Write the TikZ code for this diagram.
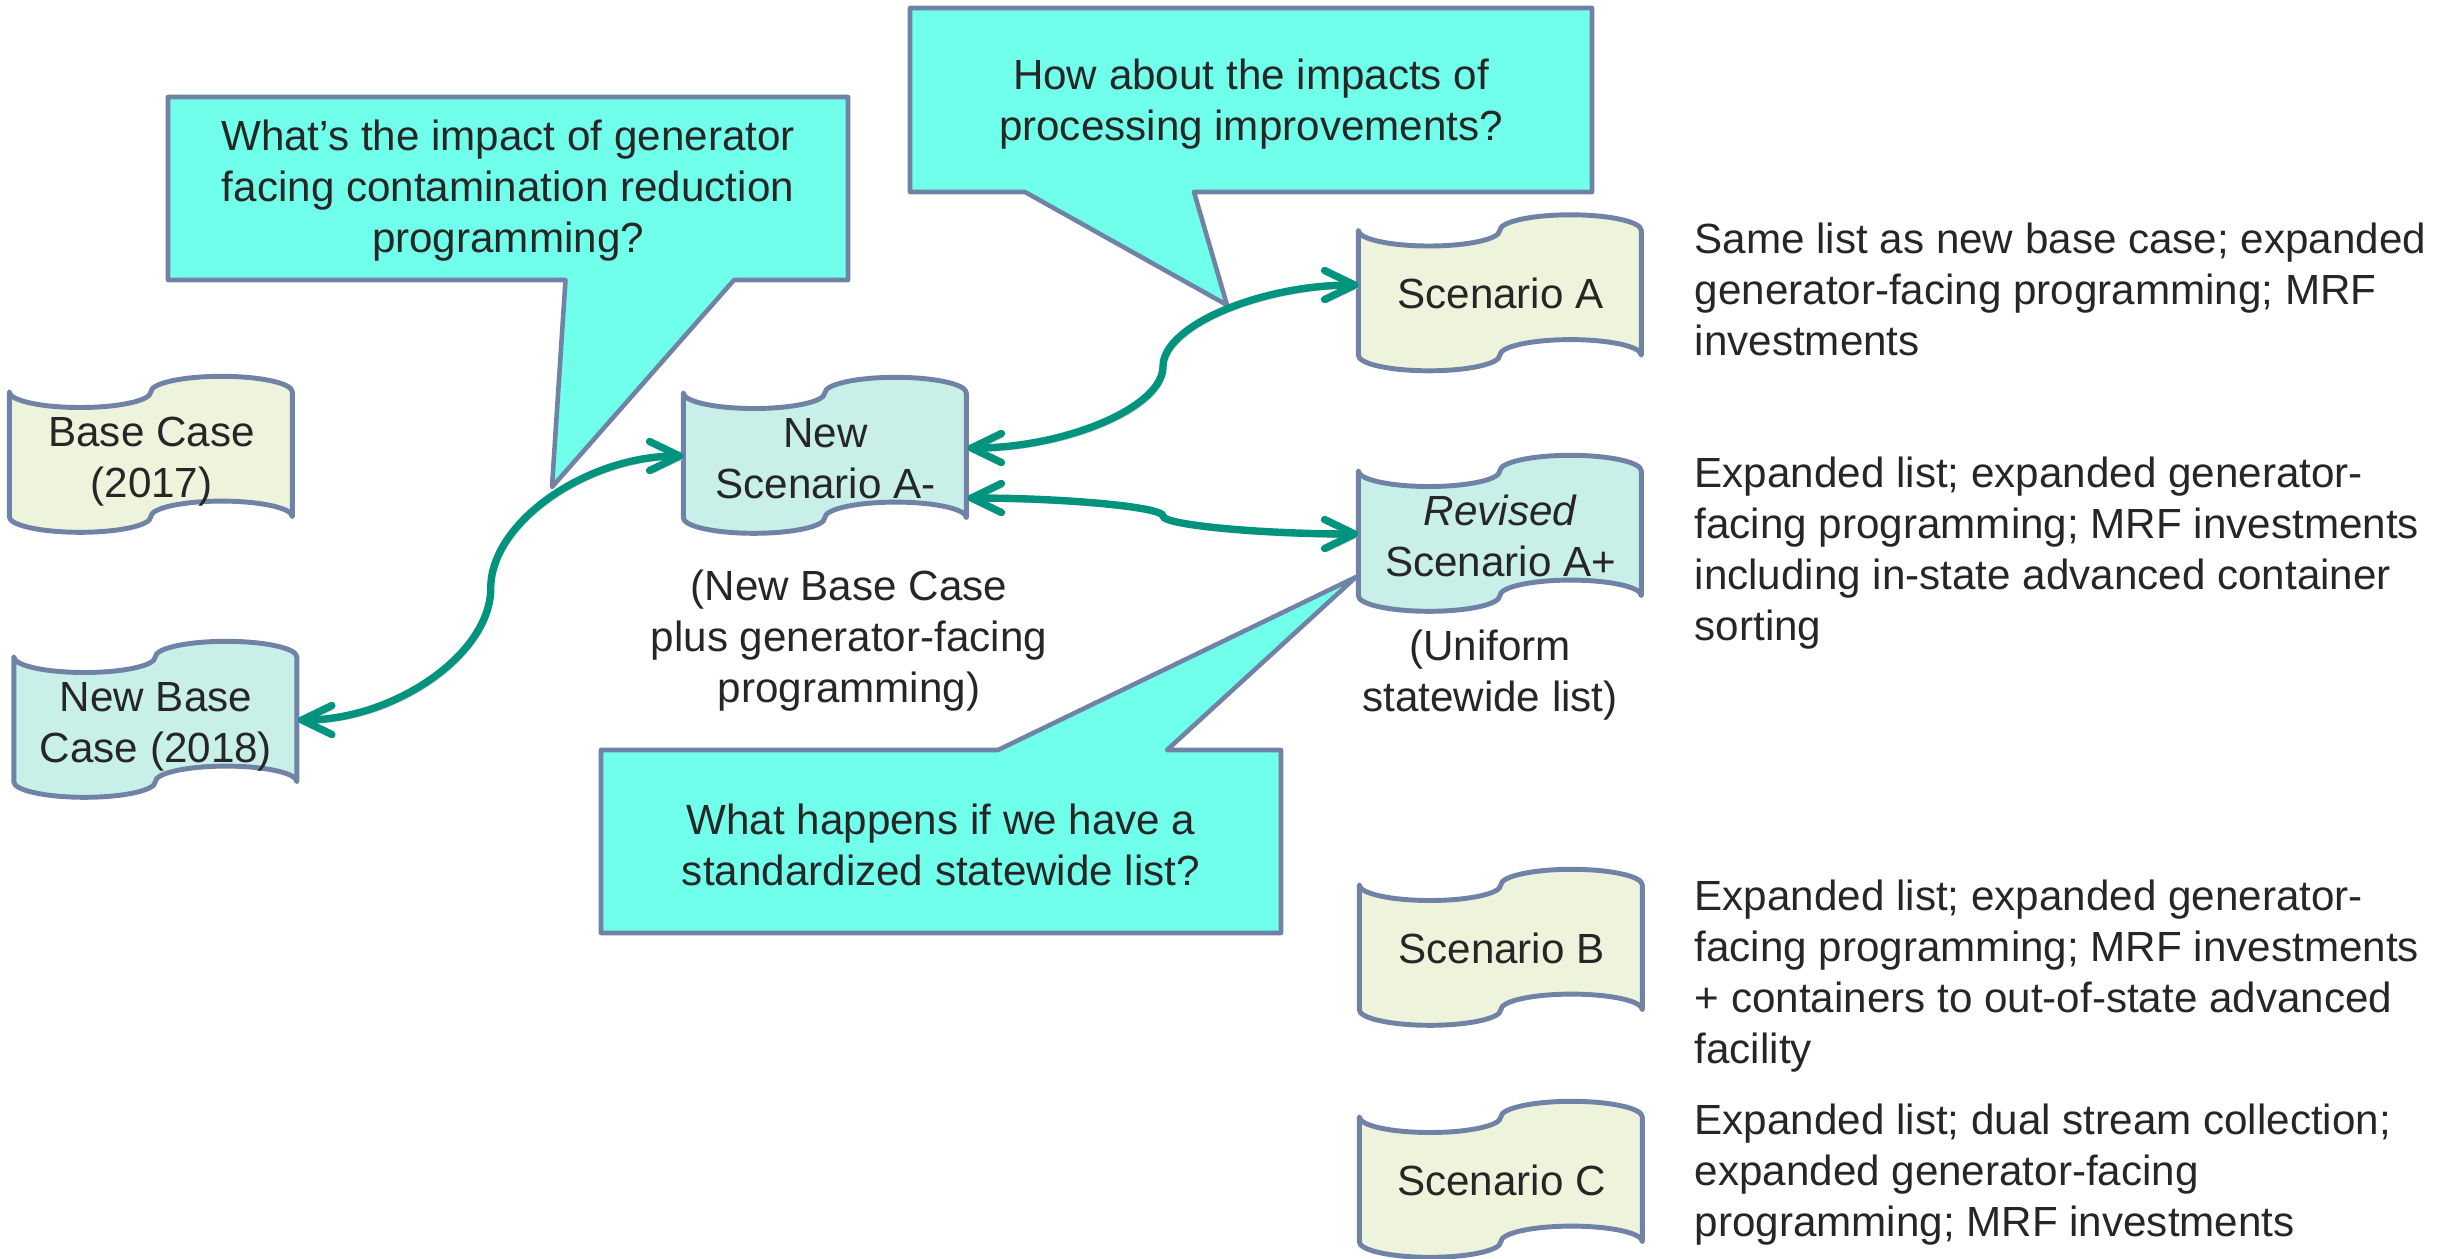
\documentclass[tikz,border=0pt]{standalone}
\usepackage{fontspec}
\setmainfont{Liberation Sans}
\usepackage{xcolor}
\usetikzlibrary{
	arrows.meta,
	calc,
	backgrounds
}
\definecolor{tapegreen}{RGB}{238,243,220}
\definecolor{tapeteal}{RGB}{200,240,232}
\definecolor{calloutfill}{RGB}{112,255,234}
\definecolor{edgeblue}{RGB}{112,131,166}
\definecolor{linkgreen}{RGB}{0,148,126}
\definecolor{txtgray}{RGB}{38,38,38}

\begin{document}
\begin{tikzpicture}[
		font=\fontsize{12}{14.5}\selectfont, text=txtgray,
		tapebox/.style={minimum width=2.83cm, minimum height=1.56cm, inner sep=0pt, align=center},
		tapeline/.style={draw=edgeblue, line width=1.4pt, line join=round},
		callout/.style={draw=edgeblue, fill=calloutfill, line width=1.3pt, line join=round},
		note/.style={inner sep=0pt, align=left, anchor=north west},
		sublabel/.style={inner sep=0pt, align=center, anchor=north},
		link/.style={draw=linkgreen, line width=2.1pt,
			{Straight Barb[length=3mm,width=2.9mm,round]}-{Straight Barb[length=3mm,width=2.9mm,round]},
			preaction={draw=black!18, transform canvas={xshift=0.6pt, yshift=-0.9pt}},
			to path={let \p1=(\tikztostart), \p2=(\tikztotarget) in
				.. controls ({\x1+(\x2-\x1)/4},\y1) and ({(\x1+\x2)/2},{\y1+(\y2-\y1)/4}) .. ({(\x1+\x2)/2},{(\y1+\y2)/2})
				.. controls ({(\x1+\x2)/2},{\y1+3*(\y2-\y1)/4}) and ({\x1+3*(\x2-\x1)/4},\y2) .. (\tikztotarget)}}
	]
		\useasboundingbox (0,0) rectangle (24.5,-12.58);
		% 标注框
		\coordinate (tip1) at (5.52,-4.87);
		\coordinate (tip2) at (12.27,-3.05);
		\coordinate (tip3) at (13.56,-5.77);
		\draw[callout] (1.68,-0.97) -- (8.48,-0.97) -- (8.48,-2.80) -- (7.34,-2.80) -- (tip1) -- (5.655,-2.80) -- (1.68,-2.80) -- cycle;
		\draw[callout] (9.10,-0.08) -- (15.92,-0.08) -- (15.92,-1.92) -- (11.94,-1.92) -- (tip2) -- (10.25,-1.92) -- (9.10,-1.92) -- cycle;
		\draw[callout] (6.01,-7.50) -- (9.98,-7.50) -- (tip3) -- (11.67,-7.50) -- (12.81,-7.50) -- (12.81,-9.33) -- (6.01,-9.33) -- cycle;
		\node[align=center] (q1) at (5.08,-1.91) {What's the impact of generator\\facing contamination reduction\\programming?};
		\node[align=center] (q2) at (12.51,-1.04) {How about the impacts of\\processing improvements?};
		\node[align=center] (q3) at (9.41,-8.45) {What happens if we have a\\standardized statewide list?};
		% 纸带节点
		\node[tapebox] (bc) at (1.515,-4.55) {\rule{0pt}{12.3pt}Base Case\\(2017)\rule[-2.6pt]{0pt}{1pt}};
		\node[tapebox] (nbc) at (1.56,-7.20) {\rule{0pt}{12.3pt}New Base\\Case (2018)\rule[-2.6pt]{0pt}{1pt}};
		\node[tapebox] (nsa) at (8.255,-4.56) {\rule{0pt}{12.3pt}New\\Scenario A-\rule[-2.6pt]{0pt}{1pt}};
		\node[tapebox] (sa) at (15.005,-2.935) {Scenario A};
		\node[tapebox] (rsa) at (15.005,-5.34) {\rule{0pt}{12.3pt}\textit{Revised}\\Scenario A+\rule[-2.6pt]{0pt}{1pt}};
		\node[tapebox] (sb) at (15.015,-9.48) {Scenario B};
		\node[tapebox] (sc) at (15.015,-11.80) {Scenario C};
		% 纸带外形
		\begin{scope}[on background layer]
			\fill[white] (0,0) rectangle (24.5,-12.58);
			\foreach \n/\c in {bc/tapegreen, nbc/tapeteal, nsa/tapeteal, sa/tapegreen, rsa/tapeteal, sb/tapegreen, sc/tapegreen}
				\draw[tapeline, fill=\c] (\n.north west) ++(0,-0.156)
					arc[start angle=180, end angle=360, x radius=0.7075, y radius=0.156]
					arc[start angle=180, end angle=0, x radius=0.7075, y radius=0.156]
					-- ++(0,-1.248)
					arc[start angle=0, end angle=180, x radius=0.7075, y radius=0.156]
					arc[start angle=0, end angle=-180, x radius=0.7075, y radius=0.156]
					-- cycle;
		\end{scope}
		% 说明文字
		\node[sublabel] (nsa-l) at (8.49,-5.69) {(New Base Case\\plus generator-facing\\programming)};
		\node[sublabel] (rsa-l) at (14.90,-6.29) {(Uniform\\statewide list)};
		\node[note] (sa-n) at (16.94,-2.22) {Same list as new base case; expanded\\generator-facing programming; MRF\\investments};
		\node[note] (rsa-n) at (16.94,-4.56) {Expanded list; expanded generator-\\facing programming; MRF investments\\including in-state advanced container\\sorting};
		\node[note] (sb-n) at (16.94,-8.79) {Expanded list; expanded generator-\\facing programming; MRF investments\\+ containers to out-of-state advanced\\facility};
		\node[note] (sc-n) at (16.94,-11.03) {Expanded list; dual stream collection;\\expanded generator-facing\\programming; MRF investments};
		% 连接箭头
		\draw[link] (nbc.east) to (nsa.west);
		\draw[link] ([yshift=0.08cm]nsa.east) to ([yshift=0.085cm]sa.west);
		\draw[link] ([yshift=-0.42cm]nsa.east) to (rsa.west);
	\end{tikzpicture}
\end{document}
